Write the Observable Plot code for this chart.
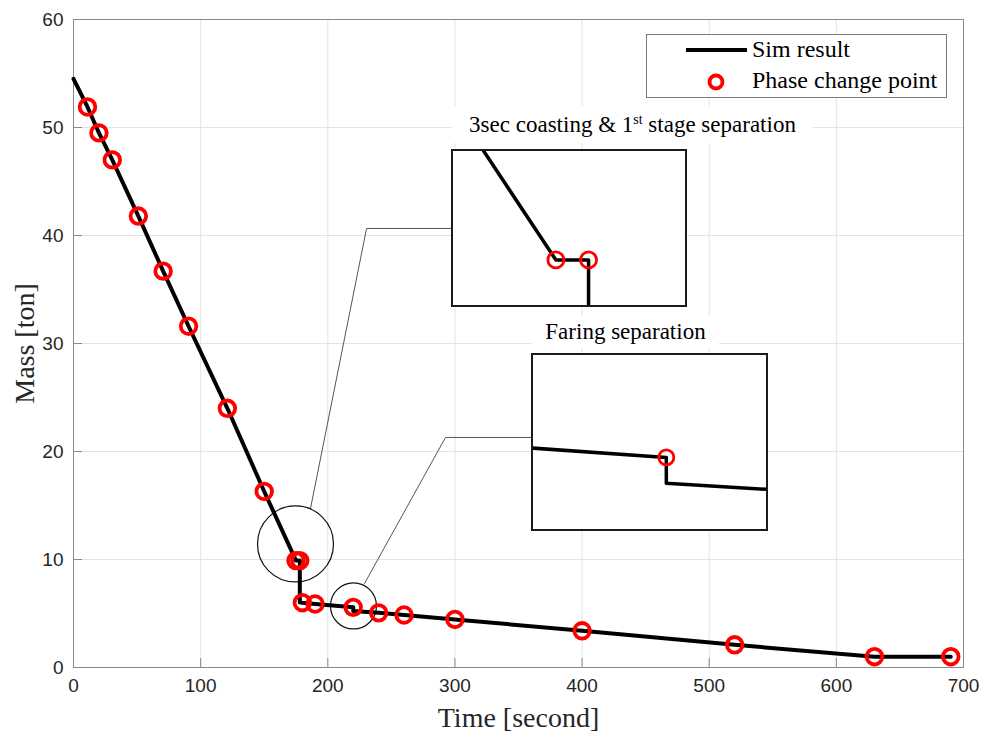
<!DOCTYPE html>
<html>
<head>
<meta charset="utf-8">
<script src="https://cdn.jsdelivr.net/npm/d3@7"></script>
<script src="https://cdn.jsdelivr.net/npm/@observablehq/plot@0.6"></script>
<style>
  html, body { margin: 0; padding: 0; background: white; }
  #fig { position: relative; width: 983px; height: 736px; overflow: hidden; background: white; }
  #fig > * { position: absolute; }
  .inset { background: white; border: 2px solid #1a1a1a; }
  .ititle { background: white; font-family: 'Liberation Serif', 'Times New Roman', serif; font-size: 23px; color: #000; text-align: center; white-space: nowrap; }
  .ititle sup { font-size: 14px; vertical-align: 8px; line-height: 0; }
  .legend { background: white; border: 1px solid #7a7a7a; box-sizing: border-box; }
</style>
</head>
<body>
<div id="fig"></div>
<script>
// ---- data ----
const simTime = [0, 11, 20, 30.5, 51, 70.5, 90.5, 121, 150, 175, 178, 178, 180, 190, 220, 220, 240, 260, 300, 400, 520, 630, 690];
const simMass = [54.5, 51.9, 49.5, 47.0, 41.8, 36.7, 31.6, 24.0, 16.3, 9.9, 9.9, 6.03, 6.0, 5.88, 5.57, 5.24, 5.06, 4.86, 4.45, 3.4, 2.1, 1.0, 1.0];
const phaseTime = [11, 20, 30.5, 51, 70.5, 90.5, 121, 150, 175, 178, 180, 190, 220, 240, 260, 300, 400, 520, 630, 690];
const phaseMass = [51.9, 49.5, 47.0, 41.8, 36.7, 31.6, 24.0, 16.3, 9.9, 9.9, 6.0, 5.88, 5.57, 5.06, 4.86, 4.45, 3.4, 2.1, 1.0, 1.0];
const xTicks = [0, 100, 200, 300, 400, 500, 600, 700];
const yTicks = [0, 10, 20, 30, 40, 50, 60];

// zoom annotations (data coordinates)
const zoom1Center = [174.6, 11.44];
const zoom2Center = [220.2, 5.7];
const connector1T = [186.4, 230.5, 298.1];
const connector1M = [14.72, 40.65, 40.65];
const connector2T = [228.9, 292.6, 361.0];
const connector2M = [7.78, 21.3, 21.3];
const inset1X = [165.6, 186.9], inset1Y = [9.19, 11.59];
const inset2X = [208.6, 228.6], inset2Y = [4.65, 6.87];

const title1 = "3sec coasting &amp; 1<sup>st</sup> stage separation";
const title2 = "Faring separation";
const xLabel = "Time [second]";
const yLabel = "Mass [ton]";
const legendLabels = ["Sim result", "Phase change point"];

// ---- build ----
const sim = simTime.map((t, i) => ({t, m: simMass[i]}));
const phase = phaseTime.map((t, i) => ({t, m: phaseMass[i]}));
const conn1 = connector1T.map((t, i) => ({t, m: connector1M[i]}));
const conn2 = connector2T.map((t, i) => ({t, m: connector2M[i]}));

const W = 983, H = 736, ML = 73, MR = 20, MT = 19, MB = 69;
const FW = W - ML - MR, FH = H - MT - MB;
const axisColor = "#8a8a8a";
const serif = "'Liberation Serif', 'Times New Roman', serif";

const main = Plot.plot({
  width: W, height: H,
  marginLeft: ML, marginRight: MR, marginTop: MT, marginBottom: MB,
  style: {fontFamily: "'Liberation Sans', Arial, sans-serif", fontSize: "19px", color: "#262626", background: "white"},
  x: {domain: [0, 700]},
  y: {domain: [0, 60]},
  marks: [
    Plot.gridX(xTicks, {stroke: "#e3e3e3", strokeOpacity: 1}),
    Plot.gridY(yTicks, {stroke: "#e3e3e3", strokeOpacity: 1}),
    Plot.frame({stroke: axisColor}),
    Plot.ruleX(xTicks, {insetTop: FH - 9, stroke: axisColor}),
    Plot.ruleY(yTicks, {insetRight: FW - 9, stroke: axisColor}),
    Plot.axisX(xTicks, {tickSize: 0, tickPadding: 11, label: null, fill: "#262626"}),
    Plot.axisY(yTicks, {tickSize: 0, tickPadding: 10, label: null, fill: "#262626"}),
    Plot.line(conn1, {x: "t", y: "m", stroke: "#555", strokeWidth: 1}),
    Plot.line(conn2, {x: "t", y: "m", stroke: "#555", strokeWidth: 1}),
    Plot.dot([zoom1Center], {x: d => d[0], y: d => d[1], r: 38, stroke: "#111", strokeWidth: 1.2, fill: "none"}),
    Plot.dot([zoom2Center], {x: d => d[0], y: d => d[1], r: 23, stroke: "#111", strokeWidth: 1.2, fill: "none"}),
    Plot.line(sim, {x: "t", y: "m", stroke: "black", strokeWidth: 4}),
    Plot.dot(phase, {x: "t", y: "m", r: 7.8, stroke: "#ff0000", strokeWidth: 3.8, fill: "none"}),
    Plot.text([xLabel], {frameAnchor: "bottom", lineAnchor: "middle", textAnchor: "middle", dy: 51, fontFamily: serif, fontSize: 28, fill: "#262626"}),
    Plot.text([yLabel], {frameAnchor: "left", lineAnchor: "middle", textAnchor: "middle", dx: -48, rotate: -90, fontFamily: serif, fontSize: 28, fill: "#262626"})
  ]
});
const fig = document.getElementById("fig");
main.style.left = "0px"; main.style.top = "0px";
fig.appendChild(main);

function inset(xd, yd, w, h, rr) {
  return Plot.plot({
    width: w, height: h, margin: 0,
    style: {background: "white"},
    x: {domain: xd, axis: null},
    y: {domain: yd, axis: null},
    marks: [
      Plot.line(sim, {x: "t", y: "m", stroke: "black", strokeWidth: 3.5, clip: true}),
      Plot.dot(phase, {x: "t", y: "m", r: rr, stroke: "#ff0000", strokeWidth: 2.8, fill: "none", clip: true})
    ]
  });
}

function place(el, left, top, cls) {
  const d = document.createElement("div");
  if (cls) d.className = cls;
  d.style.left = left + "px"; d.style.top = top + "px";
  if (el) d.appendChild(el);
  fig.appendChild(d);
  return d;
}

// inset titles (white background)
const t1 = place(null, 452, 106, "ititle");
t1.style.width = "361px"; t1.style.height = "37px"; t1.style.lineHeight = "37px";
t1.innerHTML = title1;
const t2 = place(null, 532, 316, "ititle");
t2.style.width = "187px"; t2.style.height = "32px"; t2.style.lineHeight = "32px";
t2.textContent = title2;

// insets
const i1 = place(inset(inset1X, inset1Y, 232, 154, 8), 451, 149, "inset");
i1.style.width = "232px"; i1.style.height = "154px";
const i2 = place(inset(inset2X, inset2Y, 233, 174, 7.5), 531, 353, "inset");
i2.style.width = "233px"; i2.style.height = "174px";

// legend
const lg = place(null, 646, 34, "legend");
lg.style.width = "301px"; lg.style.height = "64px";
const svg = d3.create("svg").attr("width", 299).attr("height", 62);
svg.append("line").attr("x1", 39).attr("x2", 100).attr("y1", 15).attr("y2", 15).attr("stroke", "black").attr("stroke-width", 4);
svg.append("circle").attr("cx", 69).attr("cy", 47).attr("r", 6.5).attr("fill", "none").attr("stroke", "#ff0000").attr("stroke-width", 3.8);
svg.selectAll("text").data(legendLabels).join("text")
  .attr("x", 105).attr("y", (d, i) => i === 0 ? 16 : 47)
  .attr("dominant-baseline", "middle")
  .attr("font-family", serif).attr("font-size", 24).attr("fill", "#000")
  .text(d => d);
lg.appendChild(svg.node());
</script>
</body>
</html>
